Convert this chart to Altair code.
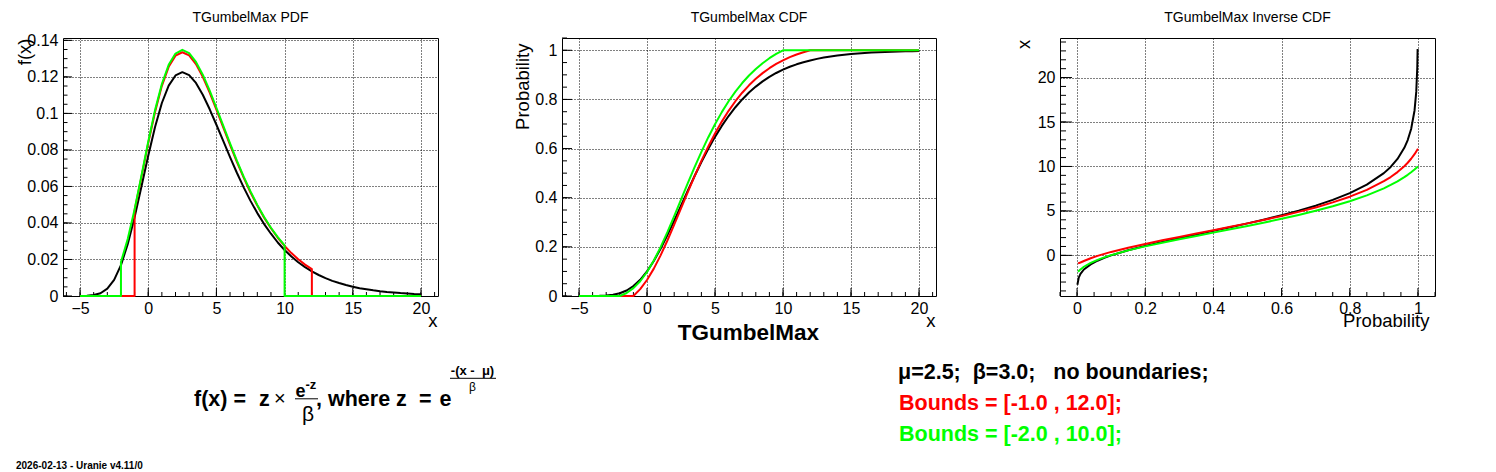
import altair as alt
import pandas as pd

# ---- values (mu=2.5, beta=3.0) ----
x_grid = [-5.0, -4.5, -4.0, -3.5, -3.0, -2.5, -2.0, -1.5, -1.0, -0.5, 0.0, 0.5, 1.0, 1.5,
          2.0, 2.5, 3.0, 3.5, 4.0, 4.5, 5.0, 5.5, 6.0, 6.5, 7.0, 7.5, 8.0, 8.5, 9.0, 9.5,
          10.0, 10.5, 11.0, 11.5, 12.0, 12.5, 13.0, 13.5, 14.0, 14.5, 15.0, 15.5, 16.0,
          16.5, 17.0, 17.5, 18.0, 18.5, 19.0, 19.5, 20.0]
red_bounds = [-1.0, 12.0]
green_bounds = [-2.0, 10.0]
red_x = x_grid[8:35]
green_x = x_grid[6:31]

pdf_black = [0.0000, 0.0001, 0.0005, 0.0015, 0.0040, 0.0088, 0.0169, 0.0285, 0.0431, 0.0598,
             0.0768, 0.0926, 0.1057, 0.1152, 0.1208, 0.1226, 0.1210, 0.1167, 0.1102, 0.1024,
             0.0938, 0.0849, 0.0760, 0.0675, 0.0595, 0.0521, 0.0454, 0.0394, 0.0341, 0.0293,
             0.0252, 0.0216, 0.0185, 0.0158, 0.0135, 0.0115, 0.0098, 0.0083, 0.0071, 0.0060,
             0.0051, 0.0043, 0.0037, 0.0031, 0.0026, 0.0022, 0.0019, 0.0016, 0.0014, 0.0011,
             0.0010]
pdf_red = [0.0470, 0.0651, 0.0837, 0.1008, 0.1151, 0.1255, 0.1316, 0.1335, 0.1318, 0.1270,
           0.1200, 0.1115, 0.1021, 0.0924, 0.0828, 0.0735, 0.0648, 0.0567, 0.0495, 0.0429,
           0.0371, 0.0319, 0.0274, 0.0235, 0.0201, 0.0172, 0.0147]
pdf_green = [0.0186, 0.0313, 0.0474, 0.0657, 0.0845, 0.1018, 0.1161, 0.1266, 0.1328, 0.1348,
             0.1330, 0.1282, 0.1212, 0.1126, 0.1031, 0.0933, 0.0836, 0.0742, 0.0654, 0.0573,
             0.0499, 0.0433, 0.0374, 0.0322, 0.0277]

cdf_black = [0.0000, 0.0000, 0.0002, 0.0006, 0.0019, 0.0050, 0.0113, 0.0225, 0.0403, 0.0660,
             0.1002, 0.1426, 0.1923, 0.2477, 0.3069, 0.3679, 0.4289, 0.4885, 0.5452, 0.5985,
             0.6476, 0.6922, 0.7324, 0.7683, 0.8000, 0.8279, 0.8522, 0.8734, 0.8918, 0.9076,
             0.9212, 0.9329, 0.9429, 0.9514, 0.9587, 0.9650, 0.9703, 0.9748, 0.9786, 0.9819,
             0.9846, 0.9870, 0.9890, 0.9906, 0.9921, 0.9933, 0.9943, 0.9952, 0.9959, 0.9965,
             0.9971]
cdf_red = [0.0000, 0.0280, 0.0652, 0.1114, 0.1655, 0.2258, 0.2902, 0.3567, 0.4231, 0.4879,
           0.5498, 0.6077, 0.6612, 0.7098, 0.7536, 0.7926, 0.8272, 0.8575, 0.8841, 0.9071,
           0.9271, 0.9443, 0.9591, 0.9719, 0.9827, 0.9921, 1.0000]
cdf_green = [0.0000, 0.0123, 0.0319, 0.0601, 0.0977, 0.1443, 0.1989, 0.2598, 0.3248, 0.3919,
             0.4590, 0.5244, 0.5868, 0.6453, 0.6993, 0.7483, 0.7925, 0.8320, 0.8668, 0.8975,
             0.9242, 0.9475, 0.9677, 0.9850, 1.0000]

p_black = [0.001, 0.005, 0.01, 0.02, 0.04, 0.06, 0.08, 0.1, 0.15, 0.2, 0.25, 0.3, 0.35, 0.4,
           0.45, 0.5, 0.55, 0.6, 0.65, 0.7, 0.75, 0.8, 0.85, 0.9, 0.92, 0.94, 0.96, 0.97,
           0.98, 0.99, 0.995, 0.998, 0.999]
q_black = [-3.30, -2.50, -2.08, -1.59, -1.01, -0.60, -0.28, 0.00, 0.58, 1.07, 1.52, 1.94,
           2.35, 2.76, 3.17, 3.60, 4.04, 4.52, 5.03, 5.59, 6.24, 7.00, 7.95, 9.25, 9.95,
           10.85, 12.10, 12.97, 14.21, 16.30, 18.39, 21.14, 23.22]
p_trunc = [0.003, 0.01, 0.02, 0.04, 0.06, 0.08, 0.1, 0.15, 0.2, 0.25, 0.3, 0.35, 0.4, 0.45,
           0.5, 0.55, 0.6, 0.65, 0.7, 0.75, 0.8, 0.85, 0.9, 0.92, 0.94, 0.96, 0.97, 0.98,
           0.99, 1.0]
q_red = [-0.90, -0.80, -0.63, -0.32, -0.06, 0.17, 0.39, 0.86, 1.29, 1.69, 2.07, 2.45, 2.83,
         3.21, 3.60, 4.00, 4.43, 4.89, 5.39, 5.96, 6.60, 7.37, 8.34, 8.81, 9.37, 10.03,
         10.42, 10.87, 11.38, 12.00]
q_green = [-1.85, -1.58, -1.28, -0.84, -0.50, -0.22, 0.03, 0.56, 1.01, 1.42, 1.81, 2.19,
           2.56, 2.93, 3.31, 3.70, 4.11, 4.54, 5.01, 5.52, 6.09, 6.75, 7.54, 7.92, 8.33,
           8.80, 9.06, 9.35, 9.66, 10.00]

FONT = 'Liberation Sans'
W1, W2, W3, H = 375, 374, 375, 258
BIG = 21.5


def series(xs, ys, before=(), after=()):
    pts = list(before) + list(zip(xs, ys)) + list(after)
    return pd.DataFrame({'x': [p[0] for p in pts], 'y': [p[1] for p in pts],
                         'o': list(range(len(pts)))})


def line(df, color, xenc, yenc):
    return alt.Chart(df).mark_line(color=color, strokeWidth=2, clip=False,
                                   strokeJoin='round').encode(x=xenc, y=yenc, order='o:Q')


def ticks(xenc, yenc, xmaj, xmin, ymaj, ymin, xlen, ylen):
    out = []
    for vals, ln in ((xmaj, xlen), (xmin, xlen / 2)):
        out.append(alt.Chart(pd.DataFrame({'x': vals})).mark_rule(color='black', strokeWidth=1)
                   .encode(x=xenc, y=alt.value(H), y2=alt.value(H - ln)))
    for vals, ln in ((ymaj, ylen), (ymin, ylen / 2)):
        out.append(alt.Chart(pd.DataFrame({'y': vals})).mark_rule(color='black', strokeWidth=1)
                   .encode(y=yenc, x=alt.value(0), x2=alt.value(ln)))
    return out


def label(text, x, y, size, bold=True, color='black', align='left', font=FONT):
    return alt.Chart(pd.DataFrame({'t': [text]})).mark_text(
        align=align, baseline='alphabetic', fontSize=size, font=font, color=color,
        fontWeight='bold' if bold else 'normal').encode(
        x=alt.value(x), y=alt.value(y), text='t:N')


def bar(x1, x2, y):
    return alt.Chart(pd.DataFrame({'a': [0]})).mark_rule(color='black', strokeWidth=1).encode(
        x=alt.value(x1), x2=alt.value(x2), y=alt.value(y))


def yaxis(values, fmt, title, tx, ty):
    return alt.Axis(values=values, format=fmt, title=title, titleAngle=270, titleAlign='right',
                    titleBaseline='alphabetic', titleX=tx, titleY=ty)


def xaxis(values, fmt, title, tx):
    return alt.Axis(values=values, format=fmt, title=title, titleAlign='right',
                    titleBaseline='alphabetic', titleX=tx, titleY=30.7)


x_major = [-5, 0, 5, 10, 15, 20]
x_minor = list(range(-6, 22))

# ---- panel 1 : PDF ----
xs1 = alt.X('x:Q', scale=alt.Scale(domain=[-6.25, 21.25], nice=False, zero=False),
            axis=xaxis(x_major, 'd', 'x', W1 - 1))
ys1 = alt.Y('y:Q', scale=alt.Scale(domain=[0, 0.1413], nice=False, zero=False),
            axis=yaxis([0, 0.02, 0.04, 0.06, 0.08, 0.1, 0.12, 0.14], '.2~f', 'f(x)', -32.5, 0))
pdf_layers = ticks(xs1, ys1, x_major, x_minor, [0.02 * i for i in range(8)],
                   [0.005 * i for i in range(29)], 8, 9)
pdf_layers += [
    line(series(x_grid, pdf_black), 'black', xs1, ys1),
    line(series(red_x, pdf_red, [(-5, 0), (red_bounds[0], 0)], [(red_bounds[1], 0), (20, 0)]),
         '#ff0000', xs1, ys1),
    line(series(green_x, pdf_green, [(-5, 0), (green_bounds[0], 0)],
                [(green_bounds[1], 0), (20, 0)]), '#00ff00', xs1, ys1),
    label('TGumbelMax PDF', W1 / 2, -16.2, 14, bold=False, align='center'),
    # formula under the first panel
    label('f(x) =', 131, 368.3, BIG),
    label('z', 196, 368.3, BIG),
    label('\u00d7', 211, 367, 20, bold=False),
    label('e', 232.5, 358.8, 18),
    label('-z', 242.5, 351.3, 13),
    bar(232, 255, 360.8),
    label('\u03b2', 245, 383, 21, bold=False, align='center'),
    label(', where', 253, 368.3, BIG),
    label('z', 333, 368.3, BIG),
    label('=', 356, 368.3, BIG),
    label('e', 376.5, 368.3, BIG),
    label('-(x -\u00a0 \u03bc)', 409.5, 337.3, 13, align='center'),
    bar(387, 433, 340.3),
    label('\u03b2', 409.5, 353.3, 12, bold=False, align='center'),
    label('2026-02-13 - Uranie v4.11/0', -47, 430.6, 10),
    # invisible anchor fixing the top-left corner of the page content
    alt.Chart(pd.DataFrame({'a': [0]})).mark_rule(strokeOpacity=0).encode(
        x=alt.value(-54), y=alt.value(-28.7), y2=alt.value(-20)),
]
p1 = alt.layer(*pdf_layers).properties(width=W1, height=H)

# ---- panel 2 : CDF ----
xs2 = alt.X('x:Q', scale=alt.Scale(domain=[-6.25, 21.25], nice=False, zero=False),
            axis=xaxis(x_major, 'd', 'x', W2 - 1))
ys2 = alt.Y('y:Q', scale=alt.Scale(domain=[0, 1.05], nice=False, zero=False),
            axis=yaxis([0, 0.2, 0.4, 0.6, 0.8, 1], '.1~f', 'Probability', -33.2, 5))
cdf_layers = ticks(xs2, ys2, x_major, x_minor, [0.2 * i for i in range(6)],
                   [0.05 * i for i in range(22)], 8, 10)
cdf_layers += [
    line(series(x_grid, cdf_black), 'black', xs2, ys2),
    line(series(red_x, cdf_red, [(-5, 0)], [(20, 1)]), '#ff0000', xs2, ys2),
    line(series(green_x, cdf_green, [(-5, 0)], [(20, 1)]), '#00ff00', xs2, ys2),
    label('TGumbelMax CDF', W2 / 2, -16.2, 14, bold=False, align='center'),
    label('TGumbelMax', 186.5, 301.6, 22.5, align='center'),
    label('\u03bc=2.5;\u00a0 \u03b2=3.0;\u00a0\u00a0 no boundaries;', 336, 340.8, BIG),
    label('Bounds = [-1.0 , 12.0];', 337, 371.8, BIG, color='#ff0000'),
    label('Bounds = [-2.0 , 10.0];', 337, 402.8, BIG, color='#00ff00'),
]
p2 = alt.layer(*cdf_layers).properties(width=W2, height=H)

# ---- panel 3 : inverse CDF ----
p_major = [0, 0.2, 0.4, 0.6, 0.8, 1]
xs3 = alt.X('x:Q', scale=alt.Scale(domain=[-0.05, 1.05], nice=False, zero=False),
            axis=xaxis(p_major, '.1~f', 'Probability', 369))
ys3 = alt.Y('y:Q', scale=alt.Scale(domain=[-4.57, 24.45], nice=False, zero=False),
            axis=yaxis([0, 5, 10, 15, 20], 'd', 'x', -30.3, 1.3))
inv_layers = ticks(xs3, ys3, p_major, [0.05 * i for i in range(-1, 22)],
                   [0, 5, 10, 15, 20], list(range(-4, 25)), 8, 12)
inv_layers += [
    line(series(p_black, q_black), 'black', xs3, ys3),
    line(series(p_trunc, q_red), '#ff0000', xs3, ys3),
    line(series(p_trunc, q_green), '#00ff00', xs3, ys3),
    label('TGumbelMax Inverse CDF', W3 / 2, -16.2, 14, bold=False, align='center'),
]
p3 = alt.layer(*inv_layers).properties(width=W3, height=H)

chart = alt.hconcat(p1, p2, p3, spacing=124, bounds='flush', padding=0).configure_view(
    stroke='black', strokeWidth=1, fill='white'
).configure_axis(
    labelFont=FONT, labelFontSize=16, labelColor='black',
    titleFont=FONT, titleFontSize=18.5, titleFontWeight='normal', titleColor='black',
    grid=True, gridColor='black', gridDash=[1, 2], gridOpacity=1, gridWidth=1,
    ticks=False, tickSize=0, domain=False, labelOverlap=False, labelFlush=False,
    labelBound=False
).configure_axisX(labelPadding=4).configure_axisY(labelPadding=5)

chart.save("out.html", embed_options={"renderer": "svg", "actions": False})
